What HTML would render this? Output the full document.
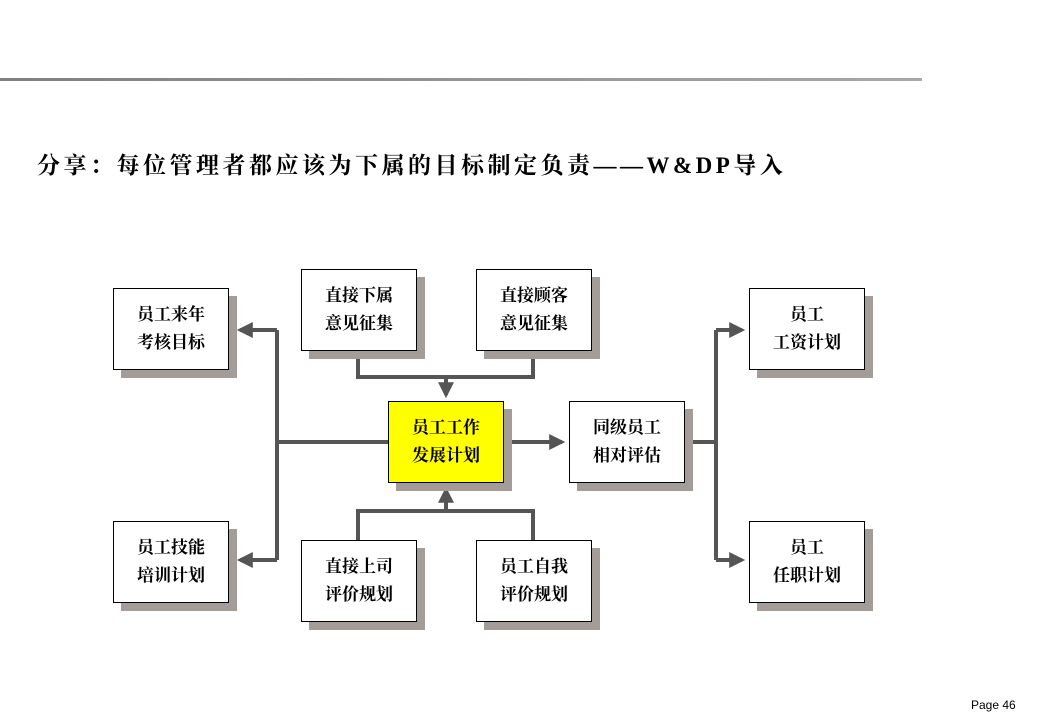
<!DOCTYPE html>
<html><head><meta charset="utf-8"><style>
body{margin:0;width:1040px;height:720px;background:#fff;position:relative;overflow:hidden;font-family:"Liberation Serif","Noto Serif CJK SC",serif}
.line{position:absolute;left:0;top:78px;width:922px;height:3px;background:linear-gradient(90deg,#808080,#a8a8a8)}
.title{position:absolute;left:37px;top:147px;font-size:23px;font-weight:bold;letter-spacing:3.5px;white-space:nowrap}
.b{position:absolute;width:114px;height:80px;border:1px solid #000;background:#fff;box-shadow:8px 8px 0 #a39c98;display:flex;align-items:center;justify-content:center;text-align:center;font-size:17px;font-weight:bold;line-height:28px}
.pg{position:absolute;left:971px;top:698px;font-family:"Liberation Sans",sans-serif;font-size:12px}
svg{position:absolute;left:0;top:0}
</style></head><body>
<div class="line"></div>
<div class="title">分享：每位管理者都应该为下属的目标制定负责——W&amp;DP导入</div>
<svg width="1040" height="720">
<defs><marker id="a" markerWidth="4" markerHeight="4" refX="3.2" refY="2" orient="auto" markerUnits="strokeWidth"><path d="M0,0 L4,2 L0,4z" fill="#555"/></marker></defs>
<g stroke="#555" stroke-width="4" fill="none">
<path d="M277,330 V560"/>
<path d="M277,330 H240" marker-end="url(#a)"/>
<path d="M277,560 H240" marker-end="url(#a)"/>
<path d="M277,442 H388"/>
<path d="M358,351 V377 H533 V351"/>
<path d="M446,377 V395" marker-end="url(#a)"/>
<path d="M358,540 V511 H533 V540"/>
<path d="M446,511 V490" marker-end="url(#a)"/>
<path d="M503,442 H562" marker-end="url(#a)"/>
<path d="M684,442 H716"/>
<path d="M716,330 V560"/>
<path d="M716,330 H742" marker-end="url(#a)"/>
<path d="M716,560 H742" marker-end="url(#a)"/>
</g></svg>
<div class="b" style="left:113px;top:288px">员工来年<br>考核目标</div>
<div class="b" style="left:301px;top:269px">直接下属<br>意见征集</div>
<div class="b" style="left:476px;top:269px">直接顾客<br>意见征集</div>
<div class="b" style="left:388px;top:401px;background:#ff0">员工工作<br>发展计划</div>
<div class="b" style="left:569px;top:401px">同级员工<br>相对评估</div>
<div class="b" style="left:749px;top:288px">员工<br>工资计划</div>
<div class="b" style="left:113px;top:521px">员工技能<br>培训计划</div>
<div class="b" style="left:301px;top:540px">直接上司<br>评价规划</div>
<div class="b" style="left:476px;top:540px">员工自我<br>评价规划</div>
<div class="b" style="left:749px;top:521px">员工<br>任职计划</div>
<div class="pg">Page 46</div>
</body></html>
